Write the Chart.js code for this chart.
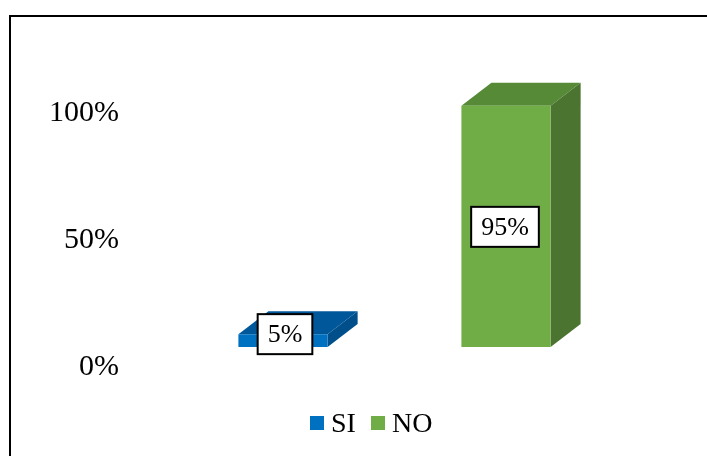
<!DOCTYPE html>
<html>
<head>
<meta charset="utf-8">
<style>
    html, body { margin: 0; padding: 0; background: #fff; overflow: hidden; }
    #frame { position: absolute; left: 9px; top: 15px; right: 0; bottom: 0; border-left: 2px solid #000; border-top: 2px solid #000; }
    #chart { position: absolute; left: 0; top: 0; }
</style>
<script src="https://cdn.jsdelivr.net/npm/chart.js@4"></script>
</head>
<body>
<div id="frame"></div>
<canvas id="chart" width="707" height="456"></canvas>
<script>
const categories = ['SI', 'NO'];
const seriesValues = [5, 95];
const yTicks = [0, 50, 100];

const frontColors = ['#0070c0', '#70ad47'];
const topColors = ['#00589a', '#578a37'];
const sideColors = ['#004f8a', '#4a742f'];

const FONT = '"Liberation Serif", "Times New Roman", serif';
const DEPTH_X = 30;
const DEPTH_Y = 23;
// the labels in the picture don't sit quite at the bar centre
const labelNudgeX = [2, -1];
const labelNudgeY = [-6.5, 0.5];

function poly(ctx, color, pts) {
    ctx.fillStyle = color;
    ctx.beginPath();
    pts.forEach((p, i) => i ? ctx.lineTo(p[0], p[1]) : ctx.moveTo(p[0], p[1]));
    ctx.closePath();
    ctx.fill();
}

// top and side faces, worked out from the bar elements
const depthFaces = {
    id: 'depthFaces',
    beforeDatasetsDraw(chart) {
        const ctx = chart.ctx;
        chart.getDatasetMeta(0).data.forEach((bar, i) => {
            const p = bar.getProps(['x', 'y', 'base', 'width']);
            const l = p.x - p.width / 2;
            const r = p.x + p.width / 2;
            poly(ctx, topColors[i], [[l, p.y], [l + DEPTH_X, p.y - DEPTH_Y], [r + DEPTH_X, p.y - DEPTH_Y], [r, p.y]]);
            poly(ctx, sideColors[i], [[r, p.y], [r + DEPTH_X, p.y - DEPTH_Y], [r + DEPTH_X, p.base - DEPTH_Y], [r, p.base]]);
        });
    }
};

const boxedLabels = {
    id: 'boxedLabels',
    afterDatasetsDraw(chart) {
        const ctx = chart.ctx;
        ctx.save();
        ctx.font = '26px ' + FONT;
        ctx.textAlign = 'center';
        ctx.textBaseline = 'middle';
        chart.getDatasetMeta(0).data.forEach((bar, i) => {
            const p = bar.getProps(['x', 'y', 'base']);
            const text = seriesValues[i] + '%';
            const w = ctx.measureText(text).width + 20;
            const h = 40;
            const cx = p.x + labelNudgeX[i];
            const cy = (p.y + p.base) / 2 + labelNudgeY[i];
            ctx.fillStyle = '#fff';
            ctx.strokeStyle = '#000';
            ctx.lineWidth = 2;
            ctx.fillRect(cx - w / 2, cy - h / 2, w, h);
            ctx.strokeRect(cx - w / 2, cy - h / 2, w, h);
            ctx.fillStyle = '#000';
            ctx.fillText(text, cx, cy + 1);
        });
        ctx.restore();
    }
};

// legend swatches and text are closer together than the built-in legend allows
const sideLegend = {
    id: 'sideLegend',
    afterDraw(chart) {
        const ctx = chart.ctx;
        ctx.save();
        ctx.font = '28px ' + FONT;
        ctx.textBaseline = 'alphabetic';
        let x = 310;
        categories.forEach((name, i) => {
            ctx.fillStyle = frontColors[i];
            ctx.fillRect(x, 416, 14, 14);
            ctx.fillStyle = '#000';
            ctx.fillText(name, x + 21, 432);
            x += 61;
        });
        ctx.restore();
    }
};

new Chart(document.getElementById('chart'), {
    type: 'bar',
    data: {
        labels: categories,
        datasets: [{
            data: seriesValues,
            backgroundColor: frontColors,
            borderWidth: 0,
            barPercentage: 0.4,
            categoryPercentage: 1
        }]
    },
    plugins: [depthFaces, boxedLabels, sideLegend],
    options: {
        responsive: false,
        animation: false,
        layout: { padding: { top: 93, bottom: 109, left: 51, right: 89.5 } },
        plugins: { legend: { display: false }, tooltip: { enabled: false } },
        scales: {
            x: { display: false },
            y: {
                min: 0,
                max: 100,
                grid: { display: false },
                border: { display: false },
                afterBuildTicks(axis) { axis.ticks = yTicks.map(v => ({ value: v })); },
                afterFit(axis) { axis.width = 120.5; },
                ticks: {
                    color: '#000',
                    font: { family: FONT, size: 30 },
                    padding: 44.5,
                    labelOffset: 20,
                    callback: v => v + '%'
                }
            }
        }
    }
});
</script>
</body>
</html>
